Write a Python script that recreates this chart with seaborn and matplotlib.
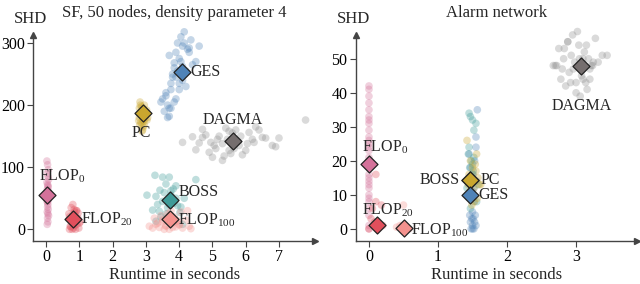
import numpy as np
import pandas as pd
import matplotlib
matplotlib.use("Agg")
import matplotlib.pyplot as plt
import seaborn as sns

sns.set_theme(style="white")
plt.rcParams['font.family'] = ['Liberation Serif', 'DejaVu Serif']
plt.rcParams['mathtext.fontset'] = 'custom'
plt.rcParams['mathtext.rm'] = 'Liberation Serif'

methods = ["GES", "PC", "DAGMA", "BOSS", "FLOP0", "FLOP20", "FLOP100"]
labels = {"GES": "GES", "PC": "PC", "DAGMA": "DAGMA", "BOSS": "BOSS",
          "FLOP0": r"FLOP$_{0}$", "FLOP20": r"FLOP$_{20}$", "FLOP100": r"FLOP$_{100}$"}
point_colors = {"GES": "#4f83b8", "PC": "#c9a62e", "DAGMA": "#8f8f8f", "BOSS": "#3f9b98",
                "FLOP0": "#d4729a", "FLOP20": "#e24f5c", "FLOP100": "#f4928e"}
mean_colors = {"GES": "#4f83b8", "PC": "#c9a62e", "DAGMA": "#756e6e", "BOSS": "#3f9b98",
               "FLOP0": "#d4729a", "FLOP20": "#e24f5c", "FLOP100": "#f4928e"}

# ---------------- Left panel: SF, 50 nodes ----------------
sf_ges_x = [3.7, 3.75, 3.9, 4.0, 4.1, 3.85, 4.2, 4.4, 4.5, 4.3, 3.95, 4.05, 4.15, 3.8, 3.6, 3.65, 3.55,
            3.75, 3.9, 4.0, 3.85, 3.7, 4.25, 4.35, 4.1, 3.95, 3.8, 3.6, 3.5, 3.45, 3.7, 4.0, 4.2, 4.05,
            3.9, 4.15, 4.3, 4.6, 3.65, 3.75, 4.1, 3.85]
sf_ges_y = [182, 195, 210, 225, 240, 205, 230, 265, 270, 285, 300, 310, 318, 250, 215, 200, 190,
            235, 245, 275, 260, 280, 290, 305, 295, 255, 245, 220, 210, 205, 195, 235, 255, 270,
            285, 300, 292, 295, 180, 225, 262, 268]
sf_pc_x = [2.8, 2.85, 2.9, 2.95, 3.0, 2.78, 2.88, 2.92, 2.97, 3.02, 2.82, 2.87, 2.93, 2.98, 2.84,
           2.9, 2.95, 2.8, 3.05, 2.86, 2.91, 2.96, 2.83, 2.89, 2.94, 2.99, 2.81, 2.92, 3.03, 2.88]
sf_pc_y = [180, 190, 195, 200, 185, 175, 170, 165, 178, 192, 205, 198, 188, 183, 172, 160, 168,
           195, 180, 186, 176, 190, 200, 182, 174, 186, 168, 194, 176, 158]
sf_dagma_x = [4.1, 4.4, 4.6, 4.7, 4.7, 4.9, 4.95, 5.0, 5.1, 5.3, 5.3, 5.4, 5.5, 5.7, 5.8, 6.0, 6.1,
              6.2, 6.3, 6.5, 6.6, 6.8, 6.9, 7.0, 7.8, 5.2, 5.45, 5.6, 5.65, 5.75, 5.9, 6.05, 5.5,
              5.35, 4.8, 5.15, 6.25, 5.55, 5.85, 6.4, 4.5, 5.05]
sf_dagma_y = [140, 149, 139, 148, 161, 124, 140, 116, 130, 111, 138, 163, 127, 160, 135, 127, 156,
              145, 165, 148, 147, 135, 133, 147, 176, 150, 145, 155, 130, 142, 120, 138, 158,
              118, 152, 145, 140, 122, 150, 160, 128, 135]
sf_boss_x = [3.03, 3.27, 3.5, 3.7, 3.6, 3.82, 3.42, 3.3, 3.2, 3.5, 3.9, 4.02, 4.15, 4.5, 3.3, 3.8,
             4.1, 3.4, 3.55, 3.7, 3.65, 3.75, 3.85, 3.6, 3.95, 3.45, 3.35, 3.75, 4.05, 3.9]
sf_boss_y = [55, 87, 84, 84, 73, 65, 63, 53, 31, 45, 50, 27, 50, 80, 13, 17, 8, 29, 59, 40, 35,
             55, 42, 25, 38, 20, 40, 62, 36, 70]
sf_f100_x = [3.1, 3.2, 3.3, 3.4, 3.5, 3.6, 3.7, 3.8, 3.9, 4.0, 4.1, 4.2, 4.35, 3.25, 3.45, 3.55,
             3.65, 3.75, 3.85, 3.95, 4.05, 3.35, 3.6, 3.8, 4.0, 4.25, 3.5, 3.7, 3.9, 4.3]
sf_f100_y = [5, 2, 8, 3, 12, 6, 0, 10, 4, 7, 2, 15, 1, 18, 22, 0, 25, 30, 20, 14, 28, 10, 5, 3, 8,
             30, 15, 22, 12, 5]
sf_f0_x = [0.02, 0.04, 0.06, 0.03, 0.05, 0.07, 0.02, 0.04, 0.06, 0.03, 0.05, 0.08, 0.02, 0.04,
           0.06, 0.03, 0.05, 0.04, 0.06, 0.03, 0.05, 0.07, 0.04, 0.05, 0.03, 0.06, 0.04, 0.05]
sf_f0_y = [110, 104, 96, 90, 85, 80, 76, 72, 68, 64, 60, 57, 53, 50, 47, 44, 40, 36, 32, 28, 25,
           22, 18, 12, 8, 62, 45, 70]
sf_f20_x = [0.7, 0.75, 0.8, 0.85, 0.9, 0.95, 1.0, 0.72, 0.78, 0.82, 0.88, 0.92, 0.98, 0.68, 0.76,
            0.84, 0.9, 0.96, 0.74, 0.8, 0.86, 0.94, 1.02, 0.7, 0.82, 0.88, 0.78, 0.92]
sf_f20_y = [20, 35, 40, 28, 30, 18, 10, 5, 0, 12, 22, 8, 2, 25, 15, 32, 14, 26, 4, 24, 6, 16,
            12, 0, 2, 0, 10, 30]

sf_mean_x = [4.08, 2.9, 5.62, 3.72, 0.03, 0.8, 3.72]
sf_mean_y = [253, 187, 142, 47, 56, 16, 16]

# ---------------- Right panel: Alarm network ----------------
al_ges_x = [1.5, 1.52, 1.48, 1.55, 1.5, 1.47, 1.53, 1.49, 1.51, 1.46, 1.54, 1.5, 1.48, 1.52, 1.56,
            1.49, 1.51, 1.47, 1.53, 1.45, 1.55, 1.5, 1.48, 1.52, 1.57, 1.55]
al_ges_y = [0, 0, 0, 1, 1, 2, 2, 3, 3, 4, 4, 5, 10, 12, 14, 15, 16, 18, 20, 22, 24, 11, 13, 8,
            35, 27]
al_boss_x = [1.45, 1.47, 1.5, 1.52, 1.44, 1.48, 1.55, 1.46, 1.5, 1.53, 1.42, 1.49, 1.56, 1.47,
             1.51, 1.45, 1.5, 1.58, 1.46, 1.52]
al_boss_y = [34, 33, 32, 29, 22, 20, 31, 18, 16, 14, 12, 10, 8, 6, 17, 24, 19, 13, 9, 21]
al_pc_x = [1.42, 1.47, 1.5, 1.55, 1.58, 1.44, 1.52, 1.6, 1.48, 1.53, 1.45, 1.56, 1.5, 1.62, 1.46,
           1.54, 1.49, 1.57]
al_pc_y = [26, 20, 18, 17, 15, 13, 12, 13, 10, 8, 16, 22, 14, 13, 11, 19, 7, 9]
al_dagma_x = [2.67, 2.72, 2.75, 2.8, 2.83, 2.88, 2.9, 2.95, 2.98, 3.0, 3.02, 3.05, 3.08, 3.1, 3.12,
              3.15, 3.18, 3.2, 3.22, 3.28, 3.32, 3.38, 3.45, 2.78, 2.85, 2.93, 3.0, 3.06, 3.14,
              3.2, 3.25, 2.7, 2.82, 2.96, 3.1, 3.16, 2.88, 3.04, 3.24, 2.92]
al_dagma_y = [48, 48, 53, 47, 53, 55, 46, 57, 49, 43, 58, 50, 45, 44, 52, 54, 50, 47, 48, 56, 49,
              51, 51, 44, 42, 51, 40, 39, 43, 44, 49, 48, 50, 47, 50, 41, 55, 54, 48, 43]
al_f0_x = [0.0, 0.0, 0.0, 0.0, 0.0, 0.0, 0.0, 0.0, 0.0, 0.0, 0.0, 0.0, 0.0, 0.0, 0.0, 0.0, 0.0,
           0.0, 0.0, 0.0, 0.0, 0.0, 0.0, 0.0, 0.0, 0.0, 0.0, 0.0, 0.0, 0.0]
al_f0_y = [42, 41, 39, 37, 35, 33, 32, 31, 29, 27, 26, 25, 24, 23, 21, 20, 19, 18, 16, 15, 14, 13,
           12, 10, 9, 8, 6, 4, 1, 0]
al_f20_x = [0.1, 0.18, 0.1, 0.05, 0.12, 0.0, 0.15, 0.08, 0.2, 0.03]
al_f20_y = [16, 7, 8, 6, 0, 0, 1, 2, 1, 3]
al_f100_x = [0.5, 0.45, 0.55, 0.4, 0.52, 0.48, 0.58]
al_f100_y = [7, 1, 0, 0.5, 0, 1, 0]

al_mean_x = [1.46, 1.46, 3.07, 1.46, 0.0, 0.11, 0.51]
al_mean_y = [10, 14.5, 48, 14.5, 19, 1, 0.3]


def make_points(groups):
    rows = []
    for m, (xs, ys) in groups.items():
        for x, y in zip(xs, ys):
            rows.append({"method": m, "x": x, "y": y})
    return pd.DataFrame(rows)


sf_points = make_points({"GES": (sf_ges_x, sf_ges_y), "PC": (sf_pc_x, sf_pc_y),
                         "DAGMA": (sf_dagma_x, sf_dagma_y), "BOSS": (sf_boss_x, sf_boss_y),
                         "FLOP100": (sf_f100_x, sf_f100_y), "FLOP0": (sf_f0_x, sf_f0_y),
                         "FLOP20": (sf_f20_x, sf_f20_y)})
al_points = make_points({"DAGMA": (al_dagma_x, al_dagma_y), "FLOP0": (al_f0_x, al_f0_y),
                         "FLOP20": (al_f20_x, al_f20_y), "FLOP100": (al_f100_x, al_f100_y),
                         "GES": (al_ges_x, al_ges_y), "BOSS": (al_boss_x, al_boss_y),
                         "PC": (al_pc_x, al_pc_y)})
sf_means = pd.DataFrame({"method": methods, "x": sf_mean_x, "y": sf_mean_y})
al_means = pd.DataFrame({"method": methods, "x": al_mean_x, "y": al_mean_y})

# label placement: (dx, dy, ha, va) in data units
sf_lab = {"GES": (0.25, 0, "left", "center"), "PC": (-0.05, -32, "center", "center"),
          "DAGMA": (0.0, 34, "center", "center"), "BOSS": (0.25, 13, "left", "center"),
          "FLOP0": (0.45, 30, "center", "center"), "FLOP20": (0.25, 0, "left", "center"),
          "FLOP100": (0.25, -2, "left", "center")}
al_lab = {"GES": (0.12, 0, "left", "center"), "PC": (0.15, 0, "left", "center"),
          "DAGMA": (0.01, -12, "center", "center"), "BOSS": (-0.15, 0, "right", "center"),
          "FLOP0": (0.23, 5, "center", "center"), "FLOP20": (0.16, 4.6, "center", "center"),
          "FLOP100": (0.1, -0.8, "left", "center")}

fig = plt.figure(figsize=(6.4, 2.84), dpi=100)
ax1 = fig.add_axes([0.052, 0.151, 0.440, 0.726])
ax2 = fig.add_axes([0.556, 0.151, 0.439, 0.726])

spine_col = "#444444"


def draw(ax, pts, means, lab, xlim, ylim, xticks, yticks, title, draw_order):
    sns.scatterplot(data=pts, x="x", y="y", hue="method", palette=point_colors, s=30, alpha=0.33,
                    linewidth=0, legend=False, ax=ax, clip_on=False)
    for m in draw_order:
        sub = means[means.method == m]
        sns.scatterplot(data=sub, x="x", y="y", color=mean_colors[m], marker="D", s=75,
                        edgecolor="#222222", linewidth=0.9, legend=False, ax=ax, zorder=5,
                        clip_on=False)
        dx, dy, ha, va = lab[m]
        ax.text(sub.x.iloc[0] + dx, sub.y.iloc[0] + dy, labels[m], ha=ha, va=va,
                fontsize=11.5, zorder=6)
    ax.set_xlim(*xlim)
    ax.set_ylim(*ylim)
    ax.set_xticks(xticks)
    ax.set_yticks(yticks)
    ax.tick_params(axis="both", which="both", direction="out", length=4, width=0.8,
                   colors=spine_col, labelcolor="black", labelsize=11.5, pad=2,
                   bottom=True, left=True)
    for s in ["top", "right"]:
        ax.spines[s].set_visible(False)
    for s in ["left", "bottom"]:
        ax.spines[s].set_color(spine_col)
        ax.spines[s].set_linewidth(1.0)
    ax.plot(1, 0, marker=">", color=spine_col, markersize=5, transform=ax.transAxes,
            clip_on=False)
    ax.plot(0, 1, marker="^", color=spine_col, markersize=5, transform=ax.transAxes,
            clip_on=False)
    ax.set_xlabel("Runtime in seconds", fontsize=12, labelpad=1)
    ax.set_ylabel("")
    ax.set_title(title, fontsize=12, pad=13)
    ax.text(-0.01, 1.04, "SHD", transform=ax.transAxes, ha="center", va="bottom", fontsize=12)


draw(ax1, sf_points, sf_means, sf_lab, (-0.39, 8.08), (-19, 313), range(0, 8),
     [0, 100, 200, 300], "SF, 50 nodes, density parameter 4",
     ["GES", "PC", "DAGMA", "BOSS", "FLOP100", "FLOP0", "FLOP20"])
draw(ax2, al_points, al_means, al_lab, (-0.19, 3.88), (-3.6, 57), range(0, 4),
     [0, 10, 20, 30, 40, 50], "Alarm network",
     ["DAGMA", "FLOP0", "FLOP20", "FLOP100", "BOSS", "PC", "GES"])

fig.savefig("out.png", dpi=100)
